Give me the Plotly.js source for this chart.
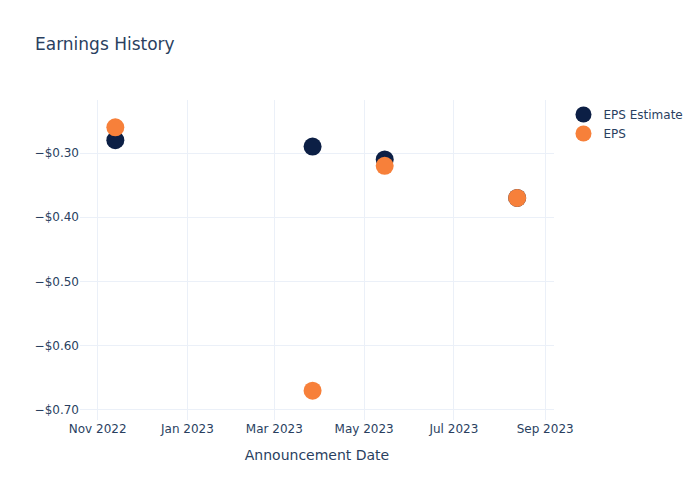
<!DOCTYPE html>
<html>
<head>
<meta charset="utf-8">
<script src="https://cdn.plot.ly/plotly-3.0.1.min.js"></script>
<style>html,body{margin:0;padding:0;}#chart{width:700px;height:500px;}</style>
</head>
<body>
<div id="chart"></div>
<script>
const dates = ['2022-11-13', '2023-03-27', '2023-05-15', '2023-08-13'];
const epsEstimate = [-0.28, -0.29, -0.31, -0.37];
const eps = [-0.26, -0.67, -0.32, -0.37];
const seriesNames = ['EPS Estimate', 'EPS'];

const traces = [
  {x: dates, y: epsEstimate, name: seriesNames[0], mode: 'markers', type: 'scatter',
   marker: {size: 18, color: '#0c1f45'}},
  {x: dates, y: eps, name: seriesNames[1], mode: 'markers', type: 'scatter',
   marker: {size: 18, color: '#f7803a'}}
];

const layout = {
  width: 700, height: 500,
  font: {family: '"DejaVu Sans", Verdana, sans-serif', color: '#2a3f5f', size: 12},
  paper_bgcolor: 'white', plot_bgcolor: 'white',
  title: {text: 'Earnings History', x: 0.05, font: {size: 17}},
  xaxis: {title: {text: 'Announcement Date', standoff: 15}, type: 'date',
          range: ['2022-10-20', '2023-09-07'], dtick: 'M2', tickformat: '%b %Y',
          tick0: '2022-11-01', gridcolor: '#EBF0F8', showline: false, zeroline: false,
          ticks: '', automargin: true},
  yaxis: {tickformat: '$.2f', range: [-0.7156, -0.2175], dtick: 0.1, tick0: -0.3,
          gridcolor: '#EBF0F8', zeroline: false, showline: false, ticks: ''},
  showlegend: true
};
Plotly.newPlot('chart', traces, layout, {displayModeBar: false});
</script>
</body>
</html>
